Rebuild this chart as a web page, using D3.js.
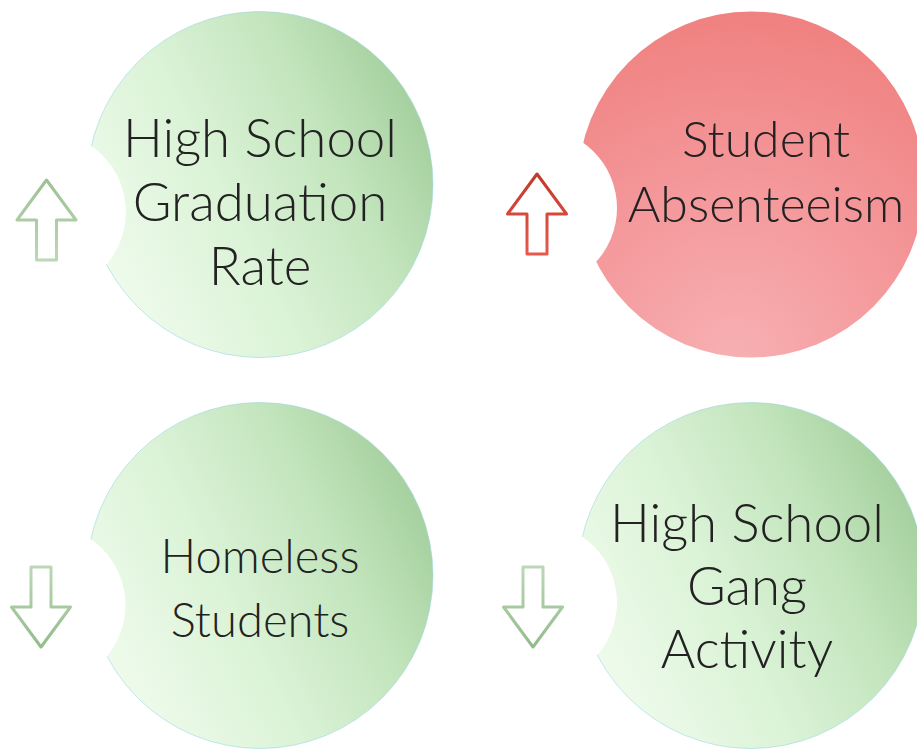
<!DOCTYPE html>
<html>
<head>
<meta charset="utf-8">
<script src="https://cdn.jsdelivr.net/npm/d3@7/dist/d3.min.js"></script>
<style>
  html, body { margin: 0; padding: 0; background: #ffffff; }
  svg { display: block; }
</style>
</head>
<body>
<svg id="chart" width="917" height="749"></svg>
<script>
// ---- data ----
const labels = [
  ["High School", "Graduation", "Rate"],
  ["Student", "Absenteeism"],
  ["Homeless", "Students"],
  ["High School", "Gang", "Activity"]
];
const directions = ["up", "up", "down", "down"];
const outcomes = ["good", "bad", "good", "good"];

// ---- layout (positions / styles) ----
const W = 917, H = 749;
const colX = d3.scaleOrdinal().domain([0, 1]).range([260, 751]);
const rowY = d3.scaleOrdinal().domain([0, 1]).range([184.5, 575.5]);
const R = 173;
const biteR = 80;
const biteDx = [-214, -214, -214.5, -214], biteDy = [27.5, 23.5, 29.5, 27];
const arrowDx = [-213.5, -214, -219, -218], arrowDy = [35.5, 29.5, 31.5, 31.5];
const textDx = [0, 15, 0, -4], textDy = [-27.5, -27.5, -2.5, -33.5];
const fontSizes = [52.8, 50, 47.2, 52.8];
const lineH = [64, 65, 64, 63];

const svg = d3.select("#chart");
const defs = svg.append("defs");

// green circle gradient
const gG = defs.append("linearGradient").attr("id", "gGreen")
  .attr("x1", 0.1).attr("y1", 0.85).attr("x2", 1).attr("y2", 0.4);
gG.append("stop").attr("offset", 0).attr("stop-color", "#effbec");
gG.append("stop").attr("offset", 0.4).attr("stop-color", "#dbf3d7");
gG.append("stop").attr("offset", 0.75).attr("stop-color", "#c2e4bc");
gG.append("stop").attr("offset", 1).attr("stop-color", "#a7d1a0");

// red circle gradient
const gR = defs.append("radialGradient").attr("id", "gRed")
  .attr("cx", 0.45).attr("cy", 1.0).attr("r", 1.05);
gR.append("stop").attr("offset", 0).attr("stop-color", "#f7b0b2");
gR.append("stop").attr("offset", 0.5).attr("stop-color", "#f4979a");
gR.append("stop").attr("offset", 1).attr("stop-color", "#ef7f7d");

// arrow gradients
function arrowGrad(id, top, bottom) {
  const g = defs.append("linearGradient").attr("id", id)
    .attr("x1", 0).attr("y1", 0).attr("x2", 0).attr("y2", 1);
  g.append("stop").attr("offset", 0).attr("stop-color", top);
  g.append("stop").attr("offset", 1).attr("stop-color", bottom);
}
arrowGrad("aGreenUp", "#9dc193", "#bcd7b5");
arrowGrad("aGreenDown", "#bdd7b6", "#92bc8a");
arrowGrad("aRedUp", "#c0392b", "#e8594b");

const items = labels.map((lab, i) => ({
  i, lab, dir: directions[i], outcome: outcomes[i],
  cx: colX(i % 2), cy: rowY(Math.floor(i / 2))
}));

// masks for bite
items.forEach(d => {
  const m = defs.append("mask").attr("id", "bite" + d.i)
    .attr("maskUnits", "userSpaceOnUse").attr("x", 0).attr("y", 0)
    .attr("width", W).attr("height", H);
  m.append("rect").attr("width", W).attr("height", H).attr("fill", "#fff");
  m.append("circle").attr("cx", d.cx + biteDx[d.i]).attr("cy", d.cy + biteDy[d.i])
    .attr("r", biteR).attr("fill", "#000");
});

const g = svg.selectAll("g.item").data(items).join("g").attr("class", "item");

g.append("circle")
  .attr("cx", d => d.cx).attr("cy", d => d.cy).attr("r", R)
  .attr("fill", d => d.outcome === "bad" ? "url(#gRed)" : "url(#gGreen)")
  .attr("stroke", d => d.outcome === "bad" ? "none" : "#9ad7df")
  .attr("stroke-width", 0.6)
  .attr("mask", d => "url(#bite" + d.i + ")");

// arrows (up shape, flipped for down)
const headW = 29.5, shaftW = 10, headH = 40, shaftH = 40;
function arrowPath(dir) {
  const s = dir === "up" ? 1 : -1;
  const pts = [
    [0, -s * (headH)],
    [headW, 0],
    [shaftW, 0],
    [shaftW, s * shaftH],
    [-shaftW, s * shaftH],
    [-shaftW, 0],
    [-headW, 0]
  ];
  return d3.line()(pts) + "Z";
}
g.append("path")
  .attr("transform", d => `translate(${d.cx + arrowDx[d.i]},${d.cy + arrowDy[d.i]})`)
  .attr("d", d => arrowPath(d.dir))
  .attr("fill", "#ffffff")
  .attr("stroke", d => d.outcome === "bad" ? "url(#aRedUp)" : (d.dir === "up" ? "url(#aGreenUp)" : "url(#aGreenDown)"))
  .attr("stroke-width", 3)
  .attr("stroke-linejoin", "round");

// labels
const t = g.append("text")
  .attr("text-anchor", "middle")
  .attr("font-family", "Lato, 'Open Sans', sans-serif")
  .attr("font-weight", 300)
  .attr("font-size", d => fontSizes[d.i])
  .attr("fill", "#222222");
t.selectAll("tspan").data(d => d.lab.map((s, k) => ({ s, k, d })))
  .join("tspan")
  .attr("x", e => e.d.cx + textDx[e.d.i])
  .attr("y", e => e.d.cy + textDy[e.d.i] + e.k * lineH[e.d.i])
  .text(e => e.s);
</script>
</body>
</html>
